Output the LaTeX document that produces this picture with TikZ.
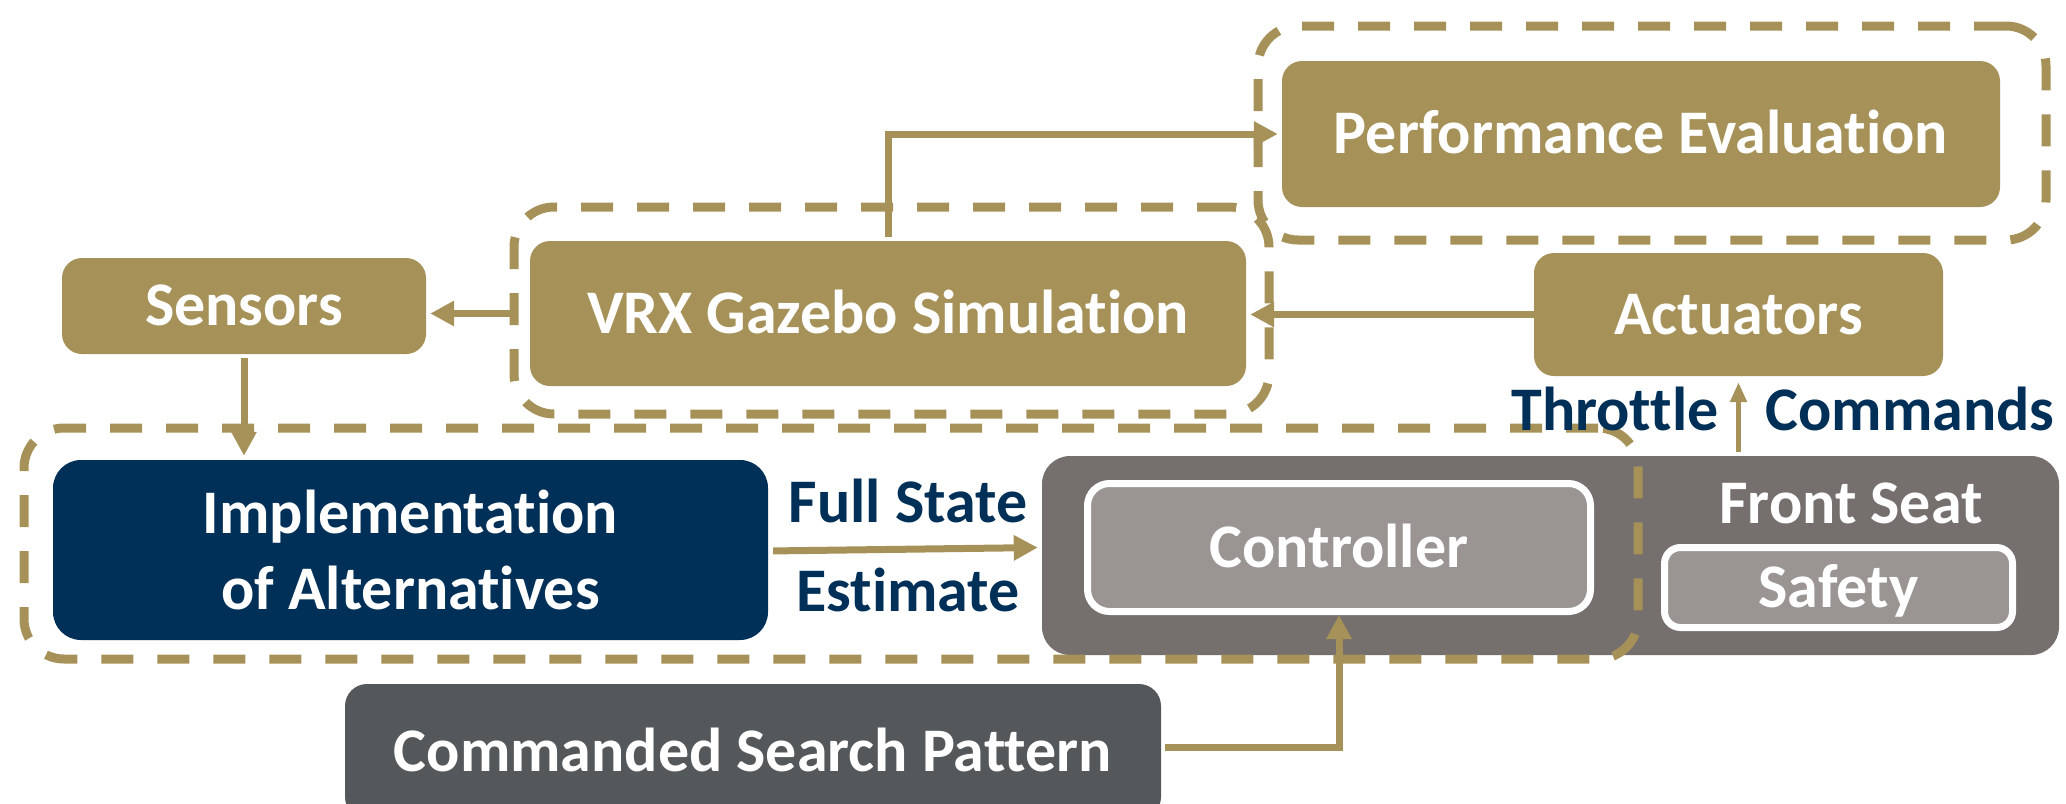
\documentclass[tikz,border=0pt]{standalone}
\usepackage{fontspec}
\setmainfont{Carlito}[Ligatures={NoCommon,NoRequired,NoContextual}]
\usetikzlibrary{arrows.meta}
\definecolor{gtgold}{HTML}{A69259}
\definecolor{gtnavy}{HTML}{003057}
\definecolor{cmdgray}{HTML}{54585A}
\definecolor{seatgray}{HTML}{75706E}
\definecolor{ctrlgray}{HTML}{9A9593}
\begin{document}
\begin{tikzpicture}[x=1pt,y=-1pt,
  lbl/.style={font=\fontsize{62}{76}\selectfont\bfseries},
  blockbox/.style={lbl, text=white, inner sep=0pt, align=center,
    text height=39pt, text depth=0pt},
  goldbox/.style={blockbox, fill=gtgold, rounded corners=20pt},
  innerbox/.style={blockbox, fill=ctrlgray, draw=white, line width=7pt, rounded corners=22pt},
  grp/.style={draw=gtgold, line width=9pt, dash pattern=on 32pt off 24pt,
    rounded corners=40pt, inner sep=0pt},
  arr/.style={draw=gtgold, line width=7pt, -{Triangle[length=24pt,width=24pt]}},
  thinarr/.style={draw=gtgold, line width=5pt, -{Triangle[length=20pt,width=16pt]}},
  navytxt/.style={lbl, text=gtnavy, anchor=base, inner sep=0pt}]
\useasboundingbox (0,0) rectangle (2066,803);
\clip (0,0) rectangle (2066,803);

% front seat housing and the commanded pattern block
\node[fill=seatgray, rounded corners=28pt, inner sep=0pt,
  minimum width=1017pt, minimum height=199pt] (seat) at (1550.5,555.5) {};
\node[blockbox, fill=cmdgray, rounded corners=22pt,
  minimum width=816pt, minimum height=135pt] (cmd) at (753,751.5) {Commanded Search Pattern};

% main blocks
\node[goldbox, minimum width=718pt, minimum height=146pt] (perf) at (1641,134) {Performance Evaluation};
\node[goldbox, minimum width=716pt, minimum height=145pt] (vrx) at (888,313.5) {VRX Gazebo Simulation};
\node[goldbox, minimum width=364pt, minimum height=96pt] (sens) at (244,306) {Sensors};
\node[goldbox, minimum width=409pt, minimum height=123pt] (act) at (1738.5,314.5) {Actuators};
\node[lbl, text=white, fill=gtnavy, rounded corners=28pt, inner sep=0pt, align=center,
  minimum width=715pt, minimum height=180pt] (impl) at (410.5,550) {Implementation\\of Alternatives};
\node[innerbox, minimum width=503pt, minimum height=128pt] (ctrl) at (1339,547.5) {Controller};
\node[innerbox, rounded corners=16pt, minimum width=348pt, minimum height=80pt] (safe) at (1838.5,587.5) {Safety};
\node[lbl, text=white, anchor=base, inner sep=0pt] (seatlbl) at (1851,523) {Front Seat};

% dashed groupings
\node[grp, minimum width=788pt, minimum height=214pt] (gperf) at (1652,133) {};
\node[grp, minimum width=755pt, minimum height=207pt] (gvrx) at (891.5,310.5) {};
\node[grp, minimum width=1614pt, minimum height=231pt] (galt) at (831,543.5) {};

% signal flow
\draw[arr, shorten <=4pt, shorten >=4pt] (vrx.north) |- (perf.west);
\draw[arr, shorten >=4pt] (gvrx.west |- vrx.west) -- (sens.east |- vrx.west);
\draw[arr, shorten >=4pt] (act.west) -- (vrx.east |- act.west);
\draw[arr, shorten <=4pt, shorten >=4pt] (sens.south) -- (sens.south |- impl.north);
\draw[arr, shorten <=5pt, shorten >=4pt] ([yshift=-1pt]impl.east) -- ([yshift=8pt]seat.west);
\draw[arr, shorten <=4pt] ([yshift=4pt]cmd.east) -| (ctrl.south);
\draw[thinarr, shorten <=4pt, shorten >=6pt] (seat.north -| act.south) -- (act.south);

% connector labels
\node[navytxt] (fse1) at (908,522) {Full State};
\node[navytxt] (fse2) at (908,611) {Estimate};
\node[navytxt] (thr) at (1615,430) {Throttle};
\node[navytxt] (cmds) at (1910,430) {Commands};
\end{tikzpicture}
\end{document}
